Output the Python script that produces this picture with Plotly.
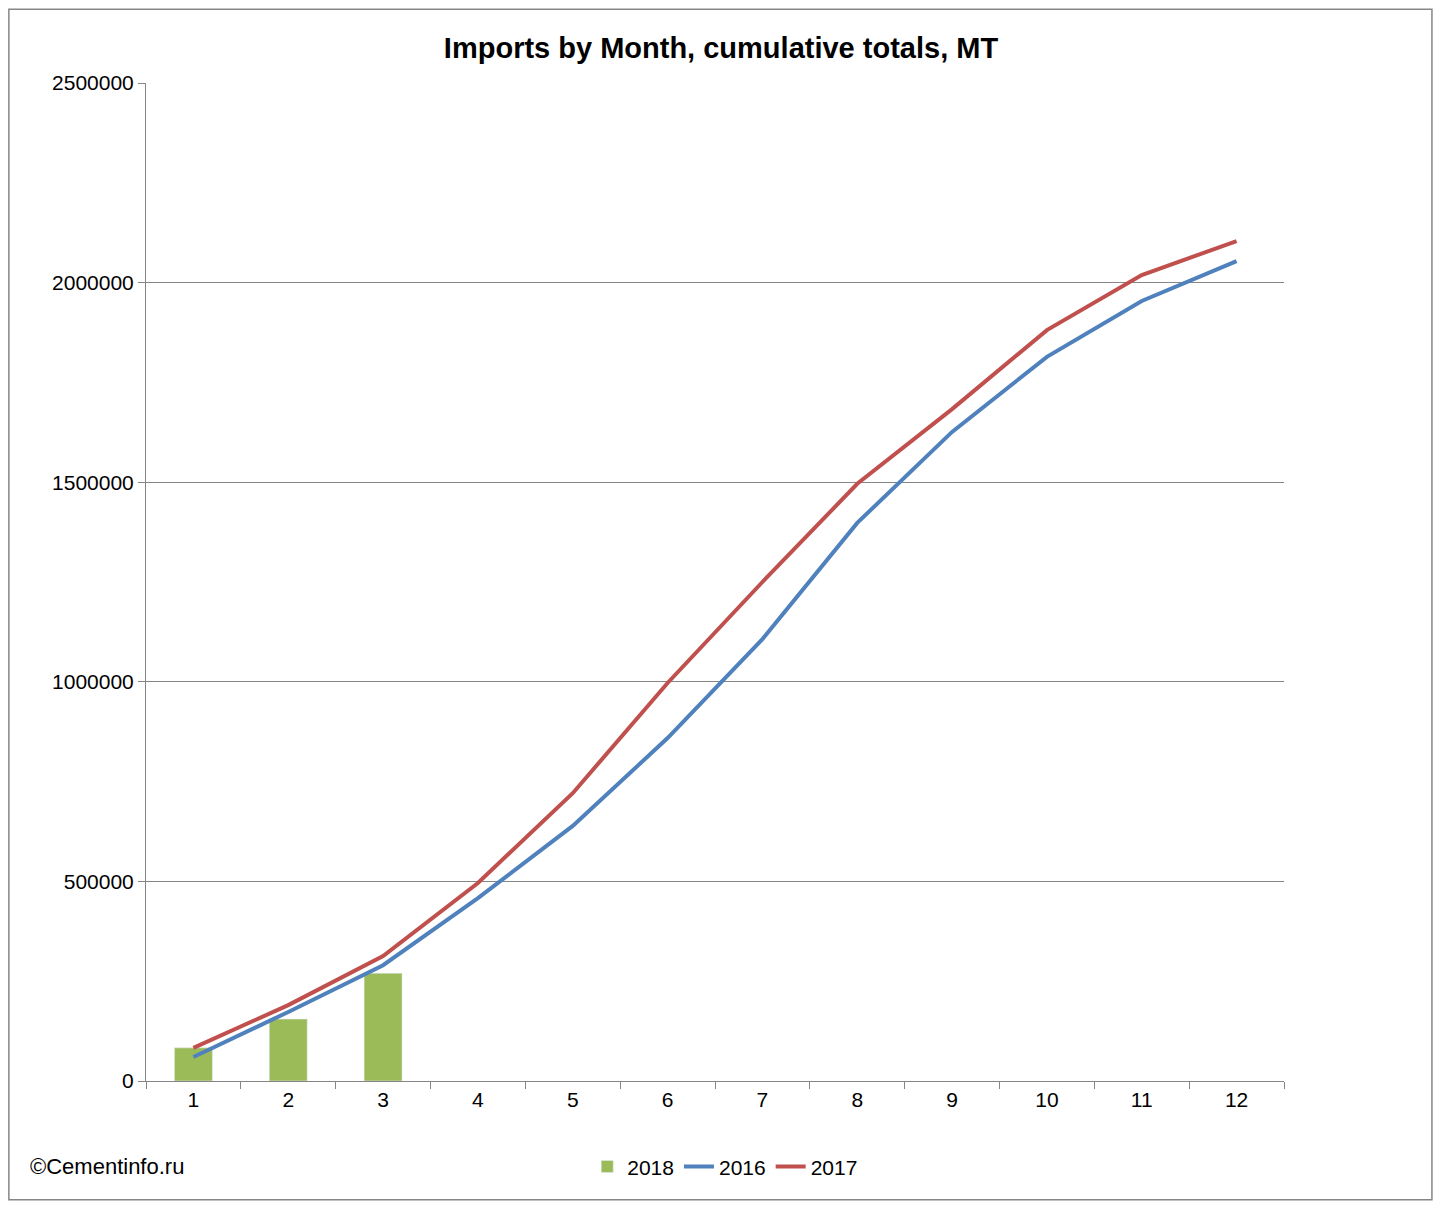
import plotly.graph_objects as go

months = list(range(1, 13))
imports_2016 = [60000, 173000, 290000, 458000, 639000, 859000, 1107000, 1398000, 1626000, 1814000, 1954000, 2054000]
imports_2017 = [83000, 190000, 313000, 496000, 721000, 997000, 1250000, 1496000, 1683000, 1881000, 2019000, 2104000]
months_2018 = [1, 2, 3]
imports_2018 = [83000, 155000, 270000]

fig = go.Figure()
fig.add_trace(go.Bar(x=months_2018, y=imports_2018, name="2018", marker_color="#9bbb59", width=0.4))
fig.add_trace(go.Scatter(x=months, y=imports_2016, name="2016", mode="lines",
                         line=dict(color="#4f81bd", width=4)))
fig.add_trace(go.Scatter(x=months, y=imports_2017, name="2017", mode="lines",
                         line=dict(color="#c0504d", width=4)))

# page has an 8px body margin, so the figure is shrunk and margins shifted
fig.update_layout(
    width=1426, height=1194,
    margin=dict(l=138, r=150, t=75, b=121),
    paper_bgcolor="white", plot_bgcolor="white",
    font=dict(family="Liberation Sans, Arial", size=21, color="black"),
    title=dict(text="<b>Imports by Month, cumulative totals, MT</b>", x=0.5, xanchor="center",
               y=0.967, yanchor="middle", font=dict(size=29)),
    legend=dict(orientation="h", x=0.509, xanchor="center", y=-0.086, yanchor="middle",
                font=dict(size=21)),
    showlegend=True,
    xaxis=dict(range=[0.5, 12.5], tickmode="linear", tick0=1, dtick=1, showgrid=False,
               showline=True, linecolor="#868686", ticks="",
               minor=dict(ticks="outside", tick0=0.5, dtick=1, ticklen=7, tickcolor="#868686")),
    yaxis=dict(range=[0, 2500000], dtick=500000, showgrid=True, gridcolor="#868686",
               showline=True, linecolor="#868686", ticks="outside", ticklen=7,
               tickcolor="#868686", tickformat="d", zeroline=False),
    annotations=[dict(text="©Cementinfo.ru", xref="paper", yref="paper", x=-0.1037, y=-0.086,
                      xanchor="left", yanchor="middle", showarrow=False, font=dict(size=22))],
    shapes=[dict(type="rect", xref="paper", yref="paper", x0=-0.1205, x1=1.130, y0=-0.119, y1=1.074,
                 line=dict(color="#868686", width=1.5))],
)
fig.write_html("out.html")
